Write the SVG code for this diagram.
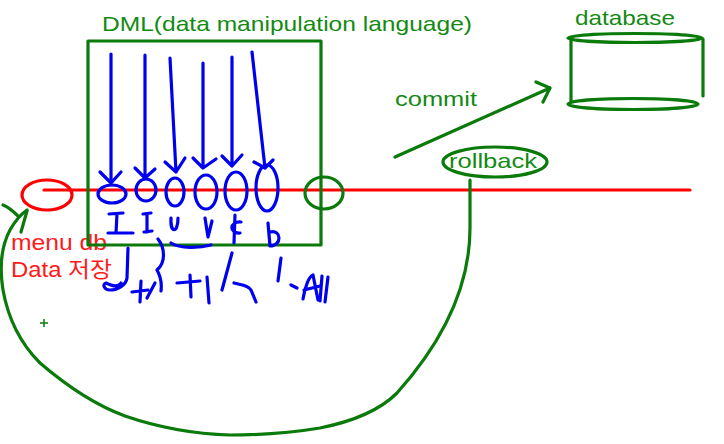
<svg xmlns="http://www.w3.org/2000/svg" width="724" height="444" viewBox="0 0 724 444">
<style>
.g{fill:none;stroke:#0a7a0a;stroke-width:3.2;stroke-linecap:round;stroke-linejoin:round}
.b{fill:none;stroke:#0000f0;stroke-width:3.2;stroke-linecap:round;stroke-linejoin:round}
.r{fill:none;stroke:#ff0000;stroke-width:3.2;stroke-linecap:round}
.tg{font-family:"Liberation Sans","Noto Sans CJK KR",sans-serif;font-size:21px;fill:#138a13}
.tr{font-family:"Liberation Sans","Noto Sans CJK KR",sans-serif;font-size:22px;fill:#ff1a1a}
</style>
<rect width="724" height="444" fill="#ffffff"/>

<g id="timeline">
<line class="r" x1="44" y1="190" x2="690" y2="190"/>
</g>

<g id="start">
<ellipse class="r" cx="47" cy="195" rx="25" ry="15"/>
<text class="tr" x="11" y="250" textLength="96" lengthAdjust="spacingAndGlyphs">menu db</text>
<text class="tr" x="11" y="277" textLength="101" lengthAdjust="spacingAndGlyphs">Data 저장</text>
</g>

<g id="dml">
<rect class="g" x="88" y="41" width="233" height="204" stroke-linejoin="miter"/>
<text class="tg" x="102" y="31" textLength="370" lengthAdjust="spacingAndGlyphs">DML(data manipulation language)</text>
<ellipse class="b" cx="112" cy="194" rx="14" ry="9"/>
<ellipse class="b" cx="146" cy="190" rx="10" ry="11"/>
<ellipse class="b" cx="175" cy="192" rx="9" ry="14"/>
<ellipse class="b" cx="206" cy="192" rx="11" ry="17"/>
<ellipse class="b" cx="236" cy="191" rx="11" ry="19"/>
<ellipse class="b" cx="267" cy="188" rx="11" ry="23"/>
</g>

<g id="end-point">
<ellipse class="g" cx="324" cy="193" rx="19" ry="16"/>
</g>

<g id="rollback">
<ellipse class="g" cx="495" cy="162" rx="52" ry="15"/>
<text class="tg" x="449" y="168" textLength="88" lengthAdjust="spacingAndGlyphs">rollback</text>
</g>

<g id="commit-label">
<text class="tg" x="395" y="106" textLength="82" lengthAdjust="spacingAndGlyphs">commit</text>
</g>

<g id="database">
<text class="tg" x="575" y="25" textLength="100" lengthAdjust="spacingAndGlyphs">database</text>
<ellipse class="g" cx="635" cy="38" rx="67" ry="4.5"/>
<line class="g" x1="571" y1="39" x2="571" y2="102"/>
<line class="g" x1="703" y1="39" x2="703" y2="96"/>
<ellipse class="g" cx="633" cy="104" rx="65" ry="5.5"/>
</g>

<g id="connectors">
<!-- blue arrows -->
<path class="b" d="M111,54 L111,183 M100,172 L111,183 L121,172"/>
<path class="b" d="M145,55 L145,178 M135,168 L145,178 L155,169"/>
<path class="b" d="M170,58 L176,172 M165,162 L176,172 L185,158"/>
<path class="b" d="M203,63 L203,168 M193,158 L203,168 L216,159"/>
<path class="b" d="M232,57 L232,166 M222,156 L232,166 L242,155"/>
<path class="b" d="M252,52 L265,168 M254,162 L265,168 L273,160"/>
<!-- commit arrow -->
<path class="g" d="M395,157 L550,88 M536,82 L550,88 L543,102"/>
<!-- rollback loop -->
<path class="g" d="M470,180 L470,228 C470,290 440,345 397,393 C380,410 355,421 320,428 C290,433 260,435 230,435 C195,434 160,428 125,416 C95,405 68,387 40,363 C20,343 8,318 3,290 C-1,265 2,245 10,230 C15,221 20,215 27,210"/>
<path class="g" d="M3,205 C8,207 13,211 18,216 M21,232 L27,211"/>
</g>

<g id="notes">
<path class="b" d="M109,214 L123,213 M117,214 L116,233 M108,233 L133,233"/>
<path class="b" d="M143,214 L151,213 M147,214 L147,232 M144,232 L152,231"/>
<path class="b" d="M171,218 C170,233 178,234 178,218"/>
<path class="b" d="M205,218 L208,237 L212,221"/>
<path class="b" d="M235,215 L234,243 M241,222 C229,221 229,234 240,233"/>
<path class="b" d="M268,223 L270,246 M270,232 C282,229 282,246 270,246"/>
<path class="b" d="M171,243 C180,249 200,248 211,245"/>
<path class="b" d="M128,248 L127,278 C126,285 118,290 110,290 C104,290 102,284 106,283 C112,286 118,288 121,283"/>
<path class="b" d="M158,239 C165,248 166,262 157,270 C161,277 162,283 161,291"/>
<path class="b" d="M141,281 L140,302 M132,292 L148,290"/>
<path class="b" d="M147,298 L155,283"/>
<path class="b" d="M177,283 L200,281 M190,275 L191,297"/>
<path class="b" d="M207,277 L209,303"/>
<path class="b" d="M232,253 L222,290"/>
<path class="b" d="M234,283 C241,285 248,285 251,290 L256,302"/>
<path class="b" d="M281,258 L278,281"/>
<path class="b" d="M291,285 L297,288"/>
<path class="b" d="M303,299 C305,287 309,276 313,275 L318,300 M304,290 L320,286 M322,276 L320,301 M328,277 L325,302"/>
</g>

<g id="mark">
<path d="M40,323 L48,323 M44,319 L44,327" stroke="#0a7a0a" stroke-width="1.5" fill="none"/>
</g>
</svg>
